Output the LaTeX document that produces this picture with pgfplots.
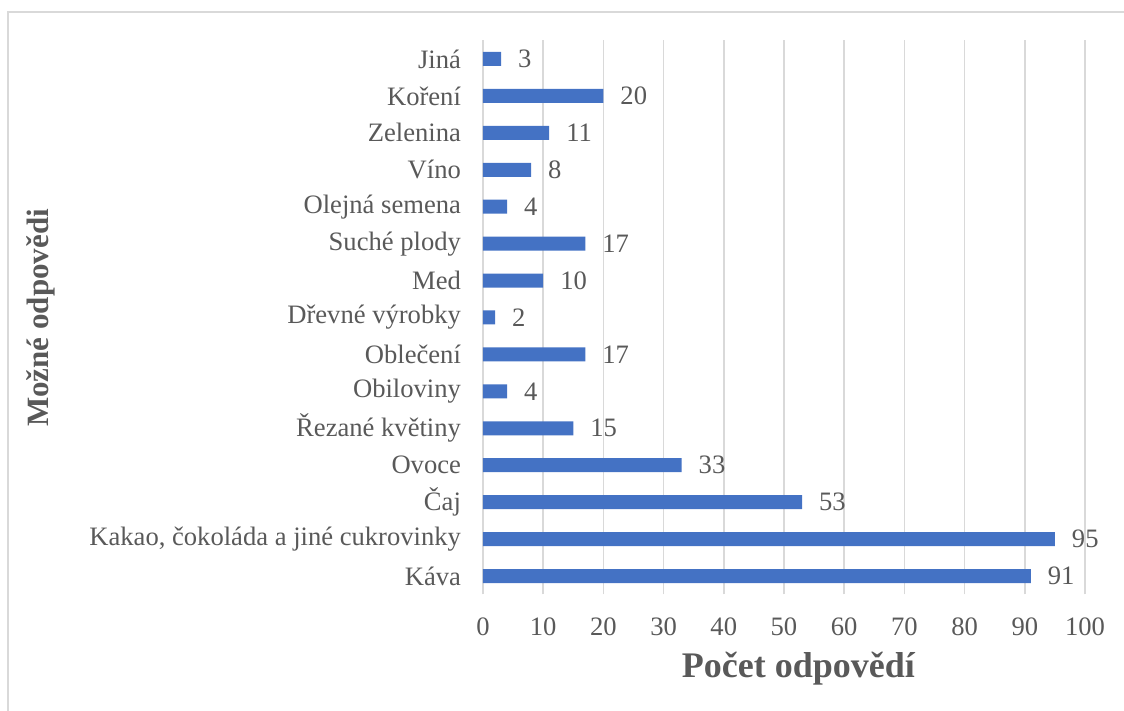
\documentclass[border=0pt]{standalone}
\usepackage{fontspec}
\setmainfont{Liberation Serif}
\usepackage{pgfplots}
\pgfplotsset{compat=1.18}
\definecolor{barblue}{HTML}{4472C4}
\definecolor{gridgray}{HTML}{D9D9D9}
\definecolor{txtgray}{HTML}{595959}
\begin{document}
\begin{tikzpicture}
\useasboundingbox (-241.5pt,-58.25pt) rectangle (320.5pt,297.25pt);
\draw[gridgray, line width=1pt] (-237.25pt,-70pt) -- (-237.25pt,291pt) -- (330pt,291pt);
\begin{axis}[
  at={(0,0)}, anchor=south west,
  scale only axis, width=301pt, height=277pt,
  xbar, bar width=7pt, bar shift=0pt,
  xmin=0, xmax=100, ymin=-0.5, ymax=14.5,
  xtick={0,10,...,100},
  ytick={0,...,14},
  yticklabels={Káva,{Kakao, čokoláda a jiné cukrovinky},Čaj,Ovoce,Řezané květiny,Obiloviny,Oblečení,Dřevné výrobky,Med,Suché plody,Olejná semena,Víno,Zelenina,Koření,Jiná},
  xmajorgrids, major grid style={gridgray, line width=0.8pt},
  axis line style={draw=none},
  major tick length=0pt,
  /pgf/number format/assume math mode=true,
  tick label style={font=\fontsize{13.3}{16}\selectfont, text=txtgray},
  xticklabel style={yshift=-8pt},
  yticklabel style={xshift=-7.5pt},
  xlabel={Počet odpovědí},
  ylabel={Možné odpovědi},
  xlabel style={font=\fontsize{18}{21}\selectfont\bfseries, text=txtgray, at={(axis description cs:0.524,-0.1336)}, anchor=center},
  ylabel style={font=\fontsize{15.5}{18}\selectfont\bfseries, text=txtgray, at={(axis description cs:-0.735,0.499)}, anchor=center},
  nodes near coords,
  every node near coord/.append style={font=\fontsize{13.3}{16}\selectfont, text=txtgray, anchor=west, xshift=5pt},
]
\addplot[fill=barblue, draw=none] coordinates {
(91,0) (95,1) (53,2) (33,3) (15,4) (4,5) (17,6) (2,7) (10,8) (17,9) (4,10) (8,11) (11,12) (20,13) (3,14)
};
\end{axis}
\end{tikzpicture}
\end{document}
